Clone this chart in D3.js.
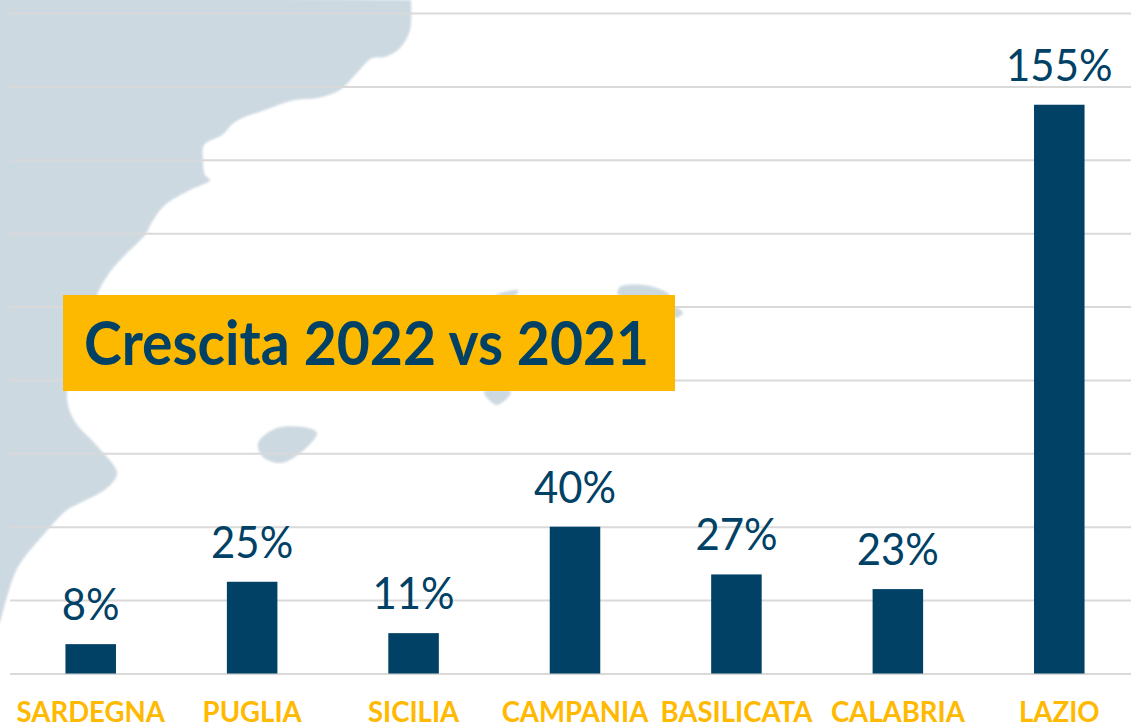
<!DOCTYPE html>
<html>
<head>
<meta charset="utf-8">
<script src="https://cdn.jsdelivr.net/npm/d3@7"></script>
<style>
    html, body { margin: 0; padding: 0; background: #fff; overflow: hidden; }
    svg { display: block; font-family: Lato, sans-serif; }
</style>
</head>
<body>
<svg id="chart" width="1131" height="728"></svg>
<script>
const regions = ['SARDEGNA', 'PUGLIA', 'SICILIA', 'CAMPANIA', 'BASILICATA', 'CALABRIA', 'LAZIO'];
const growth = [8, 25, 11, 40, 27, 23, 155];
const gridTicks = [0, 20, 40, 60, 80, 100, 120, 140, 160, 180];
const title = 'Crescita 2022 vs 2021';

// background map
const coast = [[411,0],[410,30],[400,48],[385,57],[372,58],[355,75],[340,90],[318,98],[295,100],[265,110],
    [235,122],[222,135],[204,145],[203,160],[205,175],[210,180],[190,190],[165,205],[152,222],[145,235],
    [125,255],[110,272],[97,295],[67,393],[74,420],[98,447],[117,473],[107,488],[80,503],[67,510],
    [45,533],[18,567],[7,597],[0,623]];
const islands = [
    [[258,443],[277,428],[308,428],[317,433],[304,450],[281,463],[263,457]],
    [[484,392],[511,392],[497,405]],
    [[495,295],[518,290],[516,295]],
    [[618,295],[620,287],[650,286],[670,295]],
    [[675,307],[683,313],[675,318]]
];

const width = 1131, height = 728;
const svg = d3.select('#chart');

const x = d3.scaleBand().domain(regions).range([10, 1140]).paddingInner(0.687).paddingOuter(0.3435);
const y = d3.scaleLinear().domain([0, 180]).range([673.5, 13]);

// Lato is wider than the font in the picture, so squeeze the glyphs a bit
function squeeze(selection, k) {
    selection.each(function() {
        d3.select(this)
            .attr('textLength', this.getComputedTextLength() * k)
            .attr('lengthAdjust', 'spacingAndGlyphs');
    });
}

// map
const defs = svg.append('defs');
defs.append('filter').attr('id', 'soft')
    .append('feGaussianBlur').attr('stdDeviation', 0.8);

const map = svg.append('g').attr('fill', '#cdd9e1').attr('filter', 'url(#soft)');
const coastLine = d3.line().curve(d3.curveCatmullRom);
map.append('path').attr('d', 'M-5,-5L' + coast[0].join(',') + coastLine(coast).replace(/^M[^CL]*/, '') + 'L-5,' + coast[coast.length - 1][1] + 'Z');
const islandLine = d3.line().curve(d3.curveCatmullRomClosed);
map.selectAll('path.island').data(islands).join('path')
    .attr('class', 'island')
    .attr('d', islandLine);

// gridlines
const grid = svg.append('g').attr('transform', 'translate(10,0)')
    .call(d3.axisLeft(y).tickValues(gridTicks).tickSize(-(width - 10)).tickFormat(''));
grid.select('.domain').remove();
grid.selectAll('line').attr('stroke', '#d9d9d9').attr('stroke-width', 2);

// bars
svg.append('g').selectAll('rect').data(growth).join('rect')
    .attr('x', (d, i) => x(regions[i]))
    .attr('y', d => y(d))
    .attr('width', x.bandwidth())
    .attr('height', d => y(0) - y(d))
    .attr('fill', '#004165');

// value labels
svg.append('g').selectAll('text').data(growth).join('text')
    .attr('x', (d, i) => x(regions[i]) + x.bandwidth() / 2)
    .attr('y', d => y(d) - 24)
    .attr('text-anchor', 'middle')
    .attr('font-size', 45)
    .attr('fill', '#004165')
    .text(d => d + '%')
    .call(squeeze, 0.93);

// category axis
const xAxis = svg.append('g').attr('transform', 'translate(0,' + y(0) + ')')
    .call(d3.axisBottom(x).tickSize(0).tickPadding(27.5));
xAxis.select('.domain').remove();
xAxis.selectAll('text')
    .attr('font-family', 'Lato, sans-serif')
    .attr('font-size', 29)
    .attr('font-weight', 700)
    .attr('fill', '#ffb900')
    .call(squeeze, 0.95);

// title box
svg.append('rect')
    .attr('x', 63).attr('y', 295).attr('width', 612).attr('height', 96)
    .attr('fill', '#fdb900');
svg.append('text')
    .attr('x', 84).attr('y', 365)
    .attr('font-size', 62)
    .attr('font-weight', 700)
    .attr('fill', '#004165')
    .text(title)
    .call(squeeze, 0.92);
</script>
</body>
</html>
